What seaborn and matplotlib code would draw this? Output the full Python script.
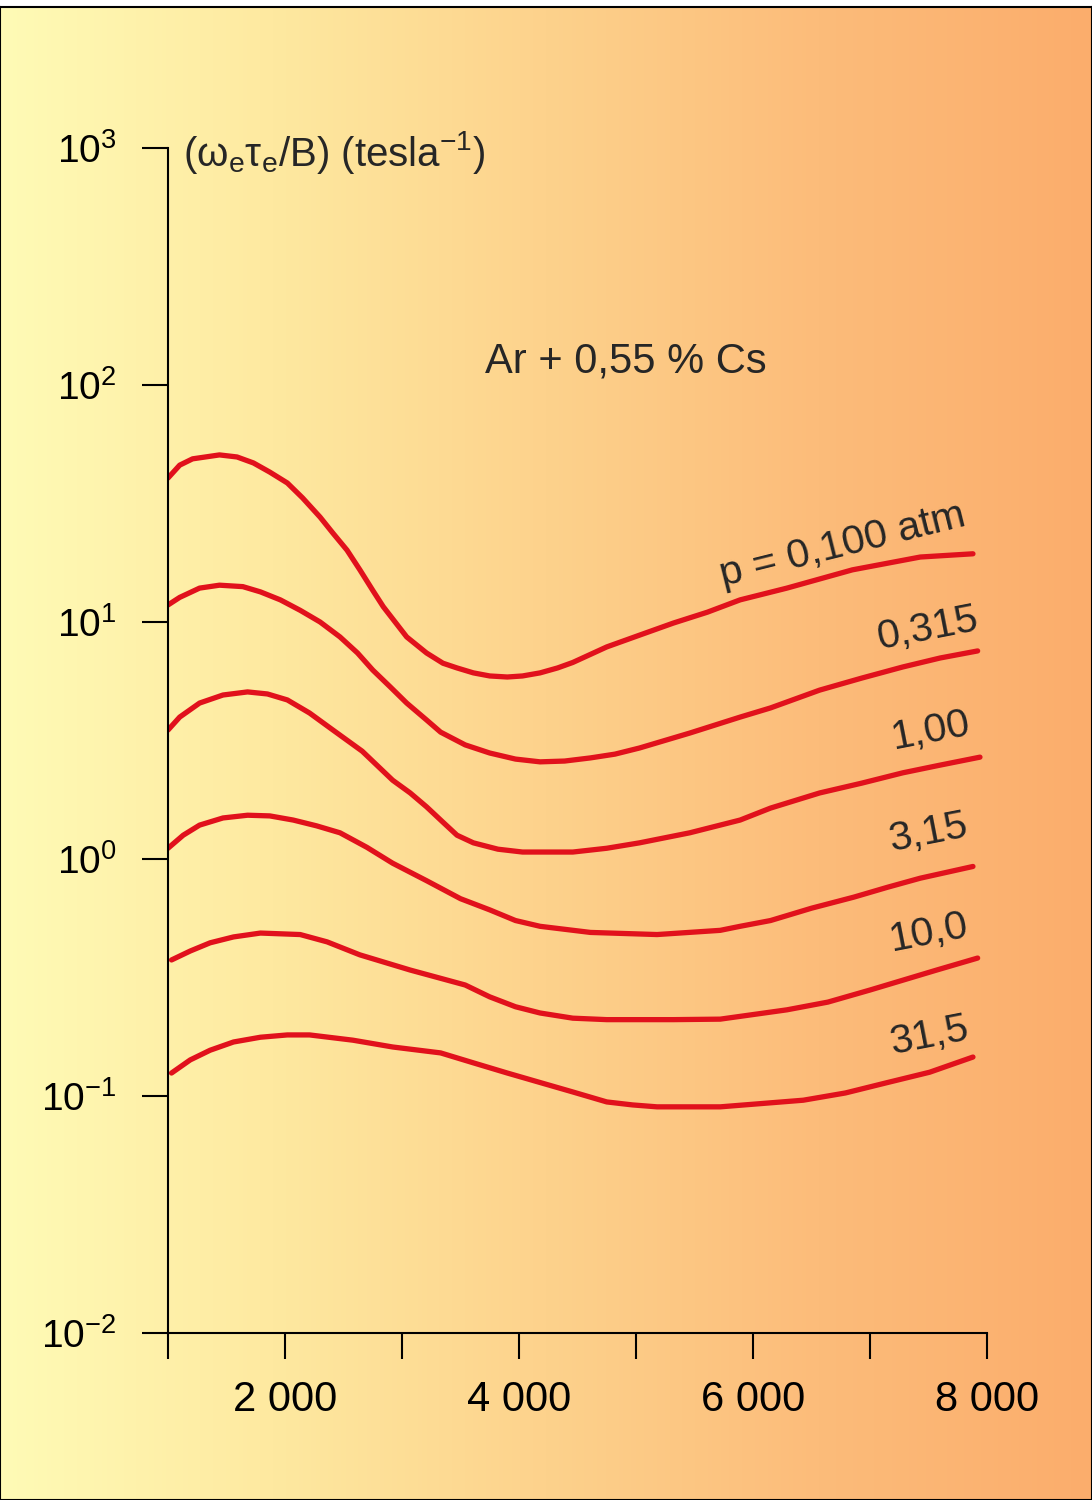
import numpy as np
import pandas as pd
import seaborn as sns
import matplotlib.pyplot as plt
from matplotlib.colors import LinearSegmentedColormap
from matplotlib.ticker import NullLocator

# values (x axis, omega_e*tau_e/B in tesla^-1)
x_p0100 = [1000, 1100, 1210, 1440, 1590, 1730, 1870, 2020, 2150, 2300, 2410,
           2530, 2640, 2750, 2840, 3040, 3210, 3350, 3470, 3610, 3750,
           3900, 4030, 4180, 4330, 4460, 4750, 5030, 5320, 5610, 5890, 6290,
           6850, 7430, 7880]
y_p0100 = [40.5, 45.9, 48.8, 50.7, 49.7, 46.9, 42.9, 38.6, 33.4, 27.7, 23.7,
           20.1, 16.6, 13.6, 11.6, 8.65, 7.4, 6.7, 6.4, 6.1, 5.92,
           5.86, 5.92, 6.1, 6.4, 6.75, 7.85, 8.8, 9.9, 11.0, 12.4, 13.9,
           16.6, 18.8, 19.4]

x_p0315 = [1000, 1100, 1270, 1440, 1640, 1790, 1960, 2130, 2300, 2470, 2620,
           2750, 2900, 3040, 3210, 3330, 3540, 3750, 3970, 4180, 4390, 4610,
           4820, 5030, 5460, 5890, 6150, 6570, 6930, 7280, 7600, 7920]
y_p0315 = [11.8, 12.7, 13.9, 14.3, 14.1, 13.4, 12.4, 11.2, 10.0, 8.65, 7.4,
           6.27, 5.32, 4.55, 3.86, 3.43, 3.03, 2.80, 2.64, 2.57, 2.59, 2.67,
           2.77, 2.94, 3.40, 3.97, 4.34, 5.16, 5.8, 6.46, 7.05, 7.55]

x_p100 = [1000, 1100, 1270, 1470, 1680, 1850, 2020, 2210, 2410, 2660, 2920,
          3070, 3210, 3350, 3470, 3610, 3820, 4030, 4460, 4750, 5030, 5460,
          5890, 6150, 6570, 6930, 7280, 7600, 7940]
y_p100 = [3.50, 3.97, 4.55, 4.92, 5.07, 4.97, 4.69, 4.13, 3.50, 2.85, 2.15,
          1.90, 1.66, 1.43, 1.26, 1.17, 1.10, 1.07, 1.07, 1.11, 1.17, 1.29,
          1.46, 1.64, 1.90, 2.09, 2.31, 2.49, 2.69]

x_p315 = [1000, 1130, 1270, 1470, 1680, 1870, 2070, 2270, 2470, 2700, 2920,
          3210, 3500, 3750, 3970, 4180, 4610, 5180, 5720, 5890, 6150, 6500,
          6860, 7150, 7430, 7880]
y_p315 = [1.11, 1.26, 1.39, 1.49, 1.53, 1.52, 1.46, 1.38, 1.29, 1.12, 0.96,
          0.81, 0.68, 0.61, 0.55, 0.52, 0.49, 0.48, 0.50, 0.52, 0.55, 0.62,
          0.69, 0.76, 0.83, 0.93]

x_p100b = [1030, 1190, 1360, 1560, 1790, 2130, 2360, 2640, 3070, 3540, 3750,
           3970, 4180, 4460, 4750, 5320, 5720, 6290, 6640, 7000, 7280, 7570,
           7920]
y_p100b = [0.375, 0.409, 0.443, 0.469, 0.487, 0.48, 0.447, 0.394, 0.340,
           0.294, 0.262, 0.238, 0.224, 0.213, 0.21, 0.21, 0.211, 0.231,
           0.249, 0.280, 0.308, 0.340, 0.382]

x_p315b = [1030, 1190, 1360, 1560, 1790, 2020, 2210, 2580, 2920, 3330, 3610,
           3900, 4180, 4460, 4750, 4970, 5180, 5720, 6430, 6790, 7150, 7510,
           7880]
y_p315b = [0.125, 0.142, 0.156, 0.169, 0.177, 0.181, 0.181, 0.172, 0.161,
           0.152, 0.138, 0.125, 0.114, 0.104, 0.0944, 0.0917, 0.090, 0.090,
           0.096, 0.103, 0.114, 0.126, 0.146]

pressures = ["0,100", "0,315", "1,00", "3,15", "10,0", "31,5"]
curve_labels = ["p = 0,100 atm", "0,315", "1,00", "3,15", "10,0", "31,5"]
y_ticks = [1e-2, 1e-1, 1e0, 1e1, 1e2, 1e3]
y_ticklabels = ["$10^{-2}$", "$10^{-1}$", "$10^{0}$", "$10^{1}$", "$10^{2}$", "$10^{3}$"]
x_ticks = [1000, 2000, 3000, 4000, 5000, 6000, 7000, 8000]
x_ticklabels = ["", "2 000", "", "4 000", "", "6 000", "", "8 000"]

xs = [x_p0100, x_p0315, x_p100, x_p315, x_p100b, x_p315b]
ys = [y_p0100, y_p0315, y_p100, y_p315, y_p100b, y_p315b]
df = pd.concat([pd.DataFrame({"x": x, "y": y, "p": p})
                for x, y, p in zip(xs, ys, pressures)], ignore_index=True)

sns.set_theme(style="ticks")
plt.rcParams["font.family"] = ["Liberation Sans", "DejaVu Sans"]
plt.rcParams["mathtext.default"] = "regular"

fig = plt.figure(figsize=(10.92, 15), dpi=100)

# gradient background with thin frame
bg = fig.add_axes([0, 0, 1, 1 - 7 / 1500])
cmap = LinearSegmentedColormap.from_list(
    "bg", ["#FFFBB6", "#FEE9A0", "#FDD28C", "#FCBC7A", "#FBAD6C"])
bg.imshow(np.linspace(0, 1, 256).reshape(1, -1), aspect="auto", cmap=cmap,
          extent=[0, 1, 0, 1])
bg.set_xticks([])
bg.set_yticks([])
for s in bg.spines.values():
    s.set_color("black")
    s.set_linewidth(1.5)
bg.set_zorder(0)

ax = fig.add_axes([168 / 1092, 1 - 1333 / 1500, (987 - 168) / 1092, (1333 - 148) / 1500])
ax.patch.set_alpha(0)
ax.set_zorder(1)

sns.lineplot(data=df, x="x", y="y", hue="p", palette=["#E1111C"] * 6,
             estimator=None, linewidth=3.8, legend=False, ax=ax,
             solid_capstyle="round", solid_joinstyle="round")

ax.set_yscale("log")
ax.set_ylim(1e-2, 1e3)
ax.set_xlim(1000, 8000)
ax.set_yticks(y_ticks)
ax.set_yticklabels(y_ticklabels)
ax.yaxis.set_minor_locator(NullLocator())
ax.set_xticks(x_ticks)
ax.set_xticklabels(x_ticklabels)
ax.set_xlabel("")
ax.set_ylabel("")
sns.despine(ax=ax)
for s in ("left", "bottom"):
    ax.spines[s].set_linewidth(1.5)
    ax.spines[s].set_color("black")
ax.tick_params(axis="both", length=19, width=1.5, color="black",
               labelcolor="black")
ax.tick_params(axis="x", pad=15, labelsize=30)
ax.tick_params(axis="y", pad=18, labelsize=28)

fig.text(183 / 1092, 1 - 152 / 1500,
         r"(ω$_{e}$τ$_{e}$/B) (tesla$^{-1}$)", ha="left", va="center", fontsize=29)
fig.text(626 / 1092, 1 - 362 / 1500, "Ar + 0,55 % Cs",
         ha="center", va="center", fontsize=30)

label_pos = [(6770, 21.1, 14), (7490, 9.4, 11), (7520, 3.47, 11),
             (7500, 1.29, 11), (7500, 0.488, 11), (7510, 0.179, 11)]
for (lx, ly, rot), txt in zip(label_pos, curve_labels):
    ax.text(lx, ly, txt, rotation=rot, ha="center", va="center",
            fontsize=29.5, rotation_mode="anchor")

fig.savefig("out.png", dpi=100)
